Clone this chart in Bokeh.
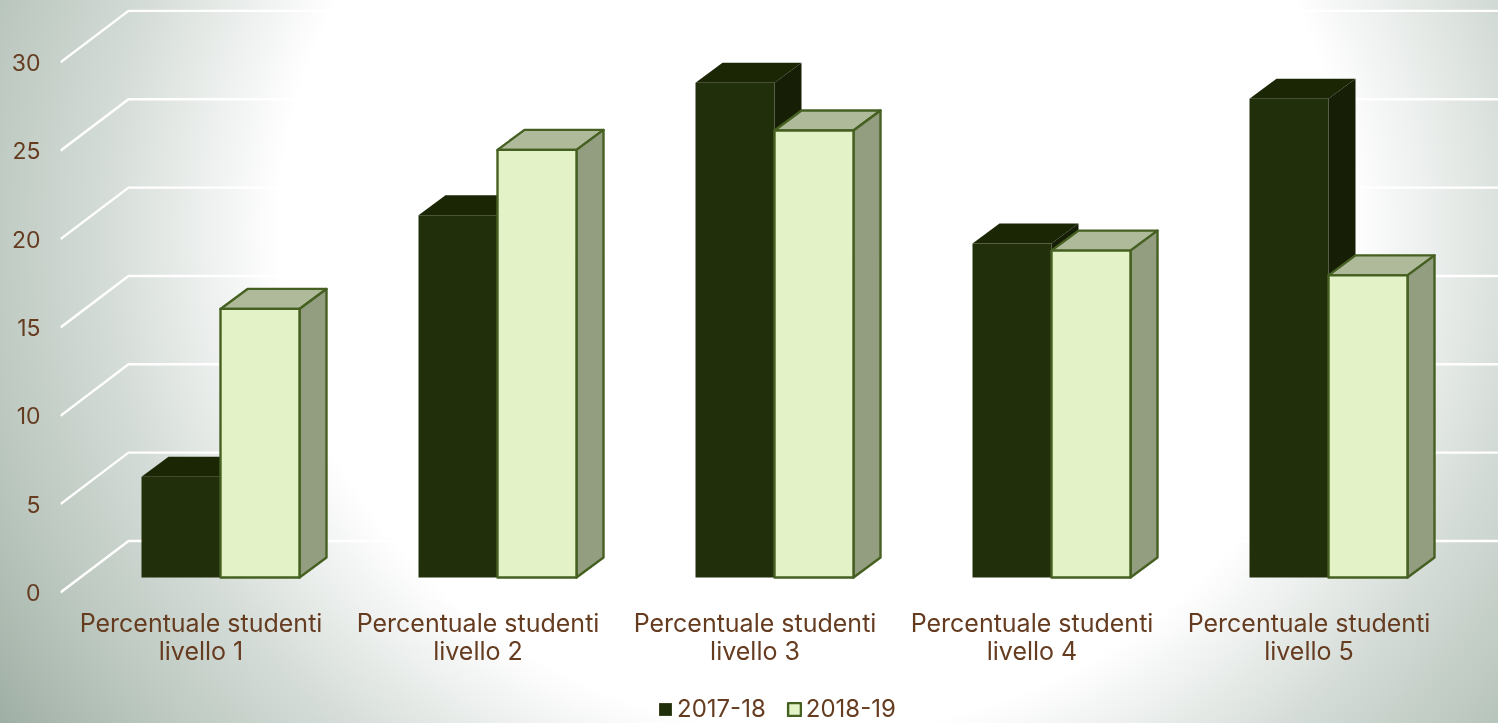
from bokeh.embed import file_html
from bokeh.resources import INLINE
from bokeh.models import Range1d, FixedTicker, Legend, LegendItem
from bokeh.plotting import figure

# ---- data ----
categories = ["Percentuale studenti\nlivello 1", "Percentuale studenti\nlivello 2",
              "Percentuale studenti\nlivello 3", "Percentuale studenti\nlivello 4",
              "Percentuale studenti\nlivello 5"]
series_names = ["2017-18", "2018-19"]
values_2017 = [5.7, 20.5, 28.0, 18.9, 27.1]
values_2018 = [15.2, 24.2, 25.3, 18.5, 17.1]
y_ticks = [0, 5, 10, 15, 20, 25, 30]

# ---- styling ----
TEXT = "#663c20"
FONT = "Inter"
OUTLINE = "#466022"
BG = ("radial-gradient(ellipse 535px 500px at 815px 230px, #fff 0%, #fff 100%, "
      "#d2dad5 135%, #b8c5bc 160%, #a0afa5 181%)")

UX = 277.0    # px per category
UY = 17.67    # px per value unit
FRAME_L, W, H = 60, 1498, 723

p = figure(width=W, height=H, output_backend="svg", toolbar_location=None,
           x_range=Range1d((FRAME_L - 200.5) / UX, (W - 200.5) / UX),
           y_range=Range1d((592 - H) / UY, 592 / UY),
           min_border_left=FRAME_L, min_border_right=0, min_border_top=0, min_border_bottom=0,
           background_fill_alpha=0, border_fill_alpha=0, outline_line_color=None)
p.stylesheets = [":host{position:fixed !important;left:0;top:0;background:%s;}" % BG]
p.grid.visible = False

# 3D geometry in data units
BAR_W = 79 / UX
SHIFT_X = 19.5 / UX
SHIFT_Y = 15 / UY
DX, DY = 27 / UX, 20 / UY
GX, GY = 68 / UX, 51.5 / UY

# walls' grid lines
x0, x1 = p.x_range.start, p.x_range.end
p.multi_line([[x0, x0 + GX, x1] for _ in y_ticks],
             [[t, t + GY, t + GY] for t in y_ticks],
             line_color="#ffffff", line_width=2.4)


def box(vals, side, front, top, right, line):
    idx = range(len(vals))
    lefts = [i + SHIFT_X + (side - 1) * BAR_W for i in idx]
    tops = [v + SHIFT_Y for v in vals]
    kw = dict(line_color=line, line_width=2.4, line_join="round") if line else dict(line_color=None)
    p.patches([[l, l + DX, l + BAR_W + DX, l + BAR_W] for l in lefts],
              [[t, t + DY, t + DY, t] for t in tops], fill_color=top, **kw)
    p.patches([[l + BAR_W, l + BAR_W + DX, l + BAR_W + DX, l + BAR_W] for l in lefts],
              [[SHIFT_Y, SHIFT_Y + DY, t + DY, t] for t in tops], fill_color=right, **kw)
    return p.vbar(x=[l + BAR_W / 2 for l in lefts], width=BAR_W, bottom=SHIFT_Y, top=tops,
                  fill_color=front, **kw)


r1 = box(values_2017, 0, "#222f0b", "#1b2605", "#161f05", None)
r2 = box(values_2018, 1, "#e4f3c7", "#aeba9a", "#939e80", OUTLINE)

# axes
ya = p.yaxis[0]
ya.ticker = FixedTicker(ticks=y_ticks)
ya.axis_line_color = None
ya.major_tick_line_color = None
ya.minor_tick_line_color = None
ya.major_label_standoff = 14
ya.major_label_text_font = FONT
ya.major_label_text_font_size = "23px"
ya.major_label_text_color = TEXT

xa = p.xaxis[0]
xa.ticker = FixedTicker(ticks=list(range(len(categories))))
xa.major_label_overrides = {i: c for i, c in enumerate(categories)}
xa.fixed_location = (592 - 600) / UY
xa.axis_line_color = None
xa.major_tick_line_color = None
xa.minor_tick_line_color = None
xa.major_label_standoff = 1
xa.major_label_text_font = FONT
xa.major_label_text_font_size = "25px"
xa.major_label_text_color = TEXT
xa.major_label_text_line_height = 0.96

legend = Legend(items=[LegendItem(label=series_names[0], renderers=[r1]),
                       LegendItem(label=series_names[1], renderers=[r2])],
                orientation="horizontal", location=(597, 0),
                border_line_color=None, background_fill_alpha=0,
                glyph_width=16, glyph_height=16, label_standoff=4, spacing=20, padding=0,
                margin=0, label_text_font=FONT, label_text_font_size="24px",
                label_text_color=TEXT)
p.add_layout(legend, "center")

open("out.html", "w").write(file_html(p, INLINE))
